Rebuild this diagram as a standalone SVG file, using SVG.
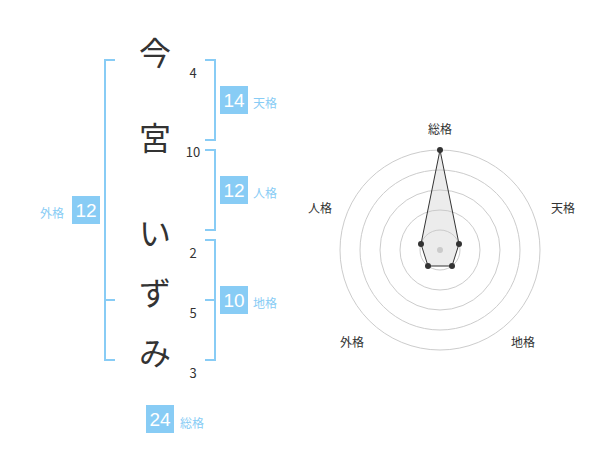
<svg xmlns="http://www.w3.org/2000/svg" width="600" height="470" viewBox="0 0 600 470">
<style>
text{font-family:"Noto Sans CJK JP","Liberation Sans",sans-serif}
.ch{font-size:32px;fill:#333;text-anchor:middle}
.n{font-size:13px;fill:#333;text-anchor:middle}
.br{fill:none;stroke:#88ccf5;stroke-width:2}
.bx{fill:#88ccf5}
.bn{font-size:19px;fill:#fff;text-anchor:middle;font-family:"Liberation Sans",sans-serif}
.bl{font-size:12px;fill:#88ccf5}
.ring{fill:none;stroke:#ccc;stroke-width:1}
.rl{font-size:12px;fill:#333;text-anchor:middle}
</style>
<rect width="600" height="470" fill="#fff"/>
<g id="chars">
<text class="ch" x="155" y="65">今</text><text class="n" x="193" y="78">4</text>
<text class="ch" x="155" y="150">宮</text><text class="n" x="193" y="157">10</text>
<text class="ch" x="155" y="245">い</text><text class="n" x="193" y="258">2</text>
<text class="ch" x="155" y="305">ず</text><text class="n" x="193" y="318">5</text>
<text class="ch" x="155" y="365">み</text><text class="n" x="193" y="378">3</text>
</g>
<g id="connectors">
<path class="br" d="M115 60H105V360H115M105 300H115"/>
<path class="br" d="M205 60H215V140H205"/>
<path class="br" d="M205 150H215V230H205"/>
<path class="br" d="M205 240H215V360H205M215 300H205"/>
</g>
<g id="tenkaku"><rect class="bx" x="220" y="86" width="28" height="28"/><text class="bn" x="234" y="107">14</text><text class="bl" x="253" y="108">天格</text></g>
<g id="jinkaku"><rect class="bx" x="220" y="176" width="28" height="28"/><text class="bn" x="234" y="197">12</text><text class="bl" x="253" y="198">人格</text></g>
<g id="chikaku"><rect class="bx" x="220" y="286" width="28" height="28"/><text class="bn" x="234" y="307">10</text><text class="bl" x="253" y="308">地格</text></g>
<g id="gaikaku"><rect class="bx" x="72" y="196" width="28" height="28"/><text class="bn" x="86" y="217">12</text><text class="bl" x="40" y="218">外格</text></g>
<g id="soukaku"><rect class="bx" x="146" y="405" width="28" height="28"/><text class="bn" x="160" y="426">24</text><text class="bl" x="180" y="428">総格</text></g>
<g id="radar">
<circle class="ring" cx="440" cy="250" r="100"/><circle class="ring" cx="440" cy="250" r="80"/><circle class="ring" cx="440" cy="250" r="60"/><circle class="ring" cx="440" cy="250" r="40"/><circle class="ring" cx="440" cy="250" r="20"/>
<circle cx="440" cy="250" r="3" fill="#ccc"/>
<polygon points="440,150 459,244 452,266 428,266 421,244" fill="rgba(200,200,200,0.35)" stroke="#333" stroke-width="1"/>
<g fill="#333"><circle cx="440" cy="150" r="3"/><circle cx="459" cy="244" r="3"/><circle cx="452" cy="266" r="3"/><circle cx="428" cy="266" r="3"/><circle cx="421" cy="244" r="3"/></g>
<text class="rl" x="440" y="134">総格</text><text class="rl" x="563" y="213">天格</text><text class="rl" x="523" y="347">地格</text><text class="rl" x="352" y="347">外格</text><text class="rl" x="320" y="213">人格</text>
</g>
</svg>
